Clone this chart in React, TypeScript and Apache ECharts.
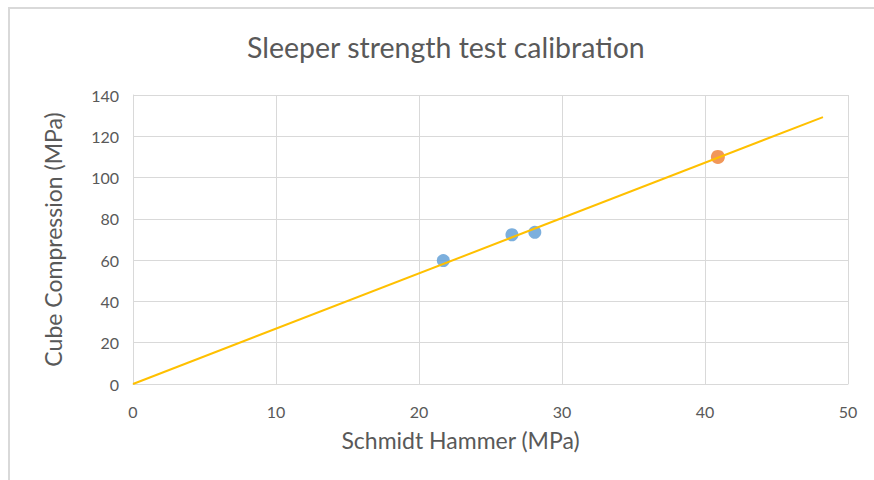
import React, { useEffect, useRef } from "react";
import * as echarts from "echarts";

const titleText = "Sleeper strength test calibration";
const xAxisName = "Schmidt Hammer (MPa)";
const yAxisName = "Cube Compression (MPa)";

const blueX = [21.7, 26.5, 28.1];
const blueY = [59.8, 72.3, 73.5];
const orangeX = [40.9];
const orangeY = [110];
const trendX = [0, 48.25];
const trendY = [0, 129.3];

const FONT = "Lato, 'Open Sans', sans-serif";
const TXT = "#595959";

export default function App() {
  const ref = useRef<HTMLDivElement>(null);
  useEffect(() => {
    if (!ref.current) return;
    const chart = echarts.init(ref.current, undefined, { renderer: "svg" });
    chart.setOption({
      animation: false,
      title: {
        text: titleText,
        left: 242,
        top: 27,
        textStyle: { fontFamily: FONT, fontSize: 28.5, fontWeight: "normal", color: TXT },
      },
      grid: { left: 133, right: 26, top: 95, bottom: 96 },
      xAxis: {
        type: "value",
        min: 0,
        max: 50,
        interval: 10,
        name: xAxisName,
        nameLocation: "middle",
        nameGap: 44,
        nameTextStyle: { fontFamily: FONT, fontSize: 23, color: TXT, padding: [0, 60, 0, 0] },
        axisLine: { show: true, lineStyle: { color: "#d9d9d9", width: 1 } },
        axisTick: { show: false },
        axisLabel: { fontFamily: FONT, fontSize: 16, color: TXT, margin: 19 },
        splitLine: { show: true, lineStyle: { color: "#d9d9d9", width: 1 } },
      },
      yAxis: {
        type: "value",
        min: 0,
        max: 140,
        interval: 20,
        name: yAxisName,
        nameLocation: "middle",
        nameGap: 69,
        nameRotate: 90,
        nameTextStyle: { fontFamily: FONT, fontSize: 23, color: TXT },
        axisLine: { show: true, lineStyle: { color: "#d9d9d9", width: 1 } },
        axisTick: { show: false },
        axisLabel: { fontFamily: FONT, fontSize: 16, color: TXT, margin: 14 },
        splitLine: { show: true, lineStyle: { color: "#d9d9d9", width: 1 } },
      },
      series: [
        {
          type: "scatter",
          data: blueX.map((x, i) => [x, blueY[i]]),
          symbol: "circle",
          symbolSize: 13,
          itemStyle: { color: "#5B9BD5" },
          z: 2,
        },
        {
          type: "scatter",
          data: orangeX.map((x, i) => [x, orangeY[i]]),
          symbol: "circle",
          symbolSize: 14,
          itemStyle: { color: "#ED7D31" },
          z: 2,
        },
        {
          type: "line",
          data: trendX.map((x, i) => [x, trendY[i]]),
          showSymbol: false,
          symbol: "none",
          lineStyle: { color: "#FFC000", width: 2 },
          z: 3,
        },
      ],
    });
    return () => chart.dispose();
  }, []);
  return (
    <div
      style={{
        position: "fixed",
        left: 0,
        top: 0,
        width: 874,
        height: 480,
        overflow: "hidden",
        background: "#ffffff",
      }}
    >
      <div
        style={{
          position: "absolute",
          left: 8,
          top: 7,
          width: 1000,
          height: 1000,
          borderTop: "2px solid #d9d9d9",
          borderLeft: "2px solid #d9d9d9",
        }}
      />
      <div
        ref={ref}
        style={{ position: "absolute", left: 0, top: 0, width: 874, height: 480 }}
      />
    </div>
  );
}
